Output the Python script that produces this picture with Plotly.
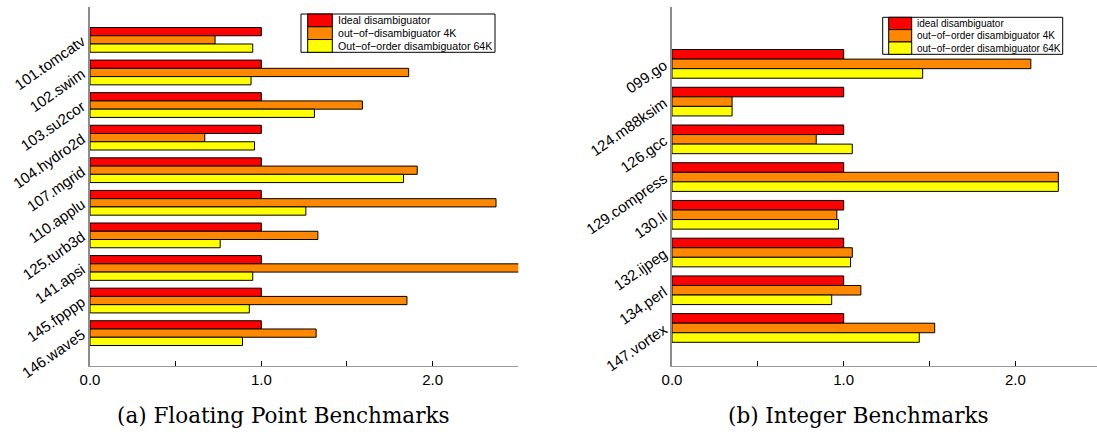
import plotly.graph_objects as go

# ---- data -----------------------------------------------------------------
fp_benchmarks = ["101.tomcatv", "102.swim", "103.su2cor", "104.hydro2d", "107.mgrid",
                 "110.applu", "125.turb3d", "141.apsi", "145.fpppp", "146.wave5"]
fp_ideal = [1.0, 1.0, 1.0, 1.0, 1.0, 1.0, 1.0, 1.0, 1.0, 1.0]
fp_ooo_4k = [0.73, 1.86, 1.59, 0.67, 1.91, 2.37, 1.33, 2.62, 1.85, 1.32]
fp_ooo_64k = [0.95, 0.94, 1.31, 0.96, 1.83, 1.26, 0.76, 0.95, 0.93, 0.89]

int_benchmarks = ["099.go", "124.m88ksim", "126.gcc", "129.compress",
                  "130.li", "132.ijpeg", "134.perl", "147.vortex"]
int_ideal = [1.0, 1.0, 1.0, 1.0, 1.0, 1.0, 1.0, 1.0]
int_ooo_4k = [2.09, 0.35, 0.84, 2.25, 0.96, 1.05, 1.10, 1.53]
int_ooo_64k = [1.46, 0.35, 1.05, 2.25, 0.97, 1.04, 0.93, 1.44]

fp_names = ["Ideal disambiguator", "out\u2212of\u2212disambiguator 4K",
            "Out\u2212of\u2212order disambiguator 64K"]
int_names = ["ideal disambiguator", "out\u2212of\u2212order disambiguator 4K",
             "out\u2212of\u2212order disambiguator 64K"]
series_colors = ["#ff0000", "#ff8800", "#ffff00"]

x_tick_vals = [0.0, 0.5, 1.0, 1.5, 2.0, 2.5]
x_tick_text = ["0.0", "", "1.0", "", "2.0", ""]

captions = ["(a) Floating Point Benchmarks", "(b) Integer Benchmarks"]

# ---- page geometry ----------------------------------------------------------
W, H = 1097, 439


def px_x(p):
    return p / W


def px_y(p):
    return 1 - p / H


LEFT_DOM = [px_x(90), px_x(518.3)]
RIGHT_DOM = [px_x(672), 1.0]
Y_DOM = [px_y(365.7), px_y(7.3)]
SANS = "Liberation Sans, Arial, sans-serif"

fig = go.Figure()

panels = [
    ("x", "y", fp_benchmarks, [fp_ideal, fp_ooo_4k, fp_ooo_64k], fp_names),
    ("x2", "y2", int_benchmarks, [int_ideal, int_ooo_4k, int_ooo_64k], int_names),
]
for xa, ya, cats, series, names in panels:
    for vals, name, col in zip(series, names, series_colors):
        fig.add_trace(go.Bar(
            y=cats, x=vals, orientation="h", name=name,
            xaxis=xa, yaxis=ya, showlegend=False,
            marker=dict(color=col, line=dict(color="black", width=1)),
        ))

bottom_x = dict(
    tickmode="array", tickvals=x_tick_vals, ticktext=x_tick_text,
    ticks="inside", ticklen=5, tickcolor="black", tickwidth=1,
    showline=True, linecolor="#9a9a9a", linewidth=1, automargin=False,
    showgrid=False, zeroline=False, fixedrange=True,
    tickfont=dict(family=SANS, size=15, color="black"),
)
top_x = dict(
    tickmode="array", tickvals=x_tick_vals, showticklabels=False,
    ticks="inside", ticklen=5, tickcolor="black", tickwidth=1,
    showline=True, linecolor="black", linewidth=1, side="top",
    showgrid=False, zeroline=False, automargin=False,
)
left_y = dict(
    type="category", showline=True, linecolor="#8c8c8c", linewidth=2,
    ticks="", showgrid=False, zeroline=False, tickangle=-35,
    ticklabelstandoff=3, automargin=False,
    tickfont=dict(family=SANS, size=15, color="black"),
)
right_y = dict(
    showline=True, linecolor="black", linewidth=1, side="right",
    ticks="inside", ticklen=6, tickcolor="black", showticklabels=False,
    showgrid=False, zeroline=False, tickmode="array", automargin=False,
)

fp_range = [len(fp_benchmarks), -1]
int_range = [len(int_benchmarks), -1.5]
int_xmax = (W - 672) / 171.7

fig.update_layout(
    width=W, height=H,
    margin=dict(l=0, r=0, t=0, b=0, autoexpand=False),
    paper_bgcolor="white", plot_bgcolor="white",
    barmode="group", bargap=0.24, bargroupgap=0.0,
    showlegend=False,
    xaxis=dict(domain=LEFT_DOM, anchor="y", range=[0, 2.5], **bottom_x),
    yaxis=dict(domain=Y_DOM, anchor="x", range=fp_range,
               categoryarray=fp_benchmarks, categoryorder="array", **left_y),
    xaxis2=dict(domain=RIGHT_DOM, anchor="y2", range=[0, int_xmax], **bottom_x),
    yaxis2=dict(domain=Y_DOM, anchor="x2", range=int_range,
                categoryarray=int_benchmarks, categoryorder="array", **left_y),
    xaxis3=dict(overlaying="x", anchor="y", range=[0, 2.5], **top_x),
    yaxis3=dict(overlaying="y", anchor="x", range=fp_range,
                tickvals=list(range(len(fp_benchmarks))), **right_y),
    xaxis4=dict(overlaying="x2", anchor="y2", range=[0, int_xmax], **top_x),
    yaxis4=dict(overlaying="y2", anchor="x2", range=int_range,
                tickvals=list(range(len(int_benchmarks))),
                **{**right_y, "showline": False, "ticklen": 3}),
)


# ---- legend boxes (patches + labels) -----------------------------------------
def legend_box(x0, x1, y0, y1, patch_x0, patch_x1, text_x, names, size):
    row_h = (y1 - y0) / len(names)
    fig.add_shape(type="rect", xref="paper", yref="paper",
                  x0=px_x(x0), x1=px_x(x1), y0=px_y(y1), y1=px_y(y0),
                  line=dict(color="black", width=1), fillcolor="white", layer="above")
    for i, (name, col) in enumerate(zip(names, series_colors)):
        top = y0 + i * row_h
        fig.add_shape(type="rect", xref="paper", yref="paper",
                      x0=px_x(patch_x0), x1=px_x(patch_x1),
                      y0=px_y(top + row_h), y1=px_y(top),
                      line=dict(color="black", width=1), fillcolor=col, layer="above")
        fig.add_annotation(xref="paper", yref="paper", x=px_x(text_x),
                           y=px_y(top + row_h / 2), text=name, showarrow=False,
                           xanchor="left", yanchor="middle",
                           font=dict(family=SANS, size=size, color="black"))


legend_box(301, 495, 14, 52.3, 307.7, 332.3, 336, fp_names, 10.6)
legend_box(882.7, 1062.7, 17.3, 54.3, 888.7, 911.7, 915, int_names, 10)

# ---- sub-figure captions ------------------------------------------------------
for cx, text in zip([283, 858], captions):
    fig.add_annotation(xref="paper", yref="paper", x=px_x(cx), y=px_y(415),
                       text=text, showarrow=False, xanchor="center", yanchor="middle",
                       font=dict(family="DejaVu Serif, serif", size=21.5, color="black"))

fig.write_html("out.html")
